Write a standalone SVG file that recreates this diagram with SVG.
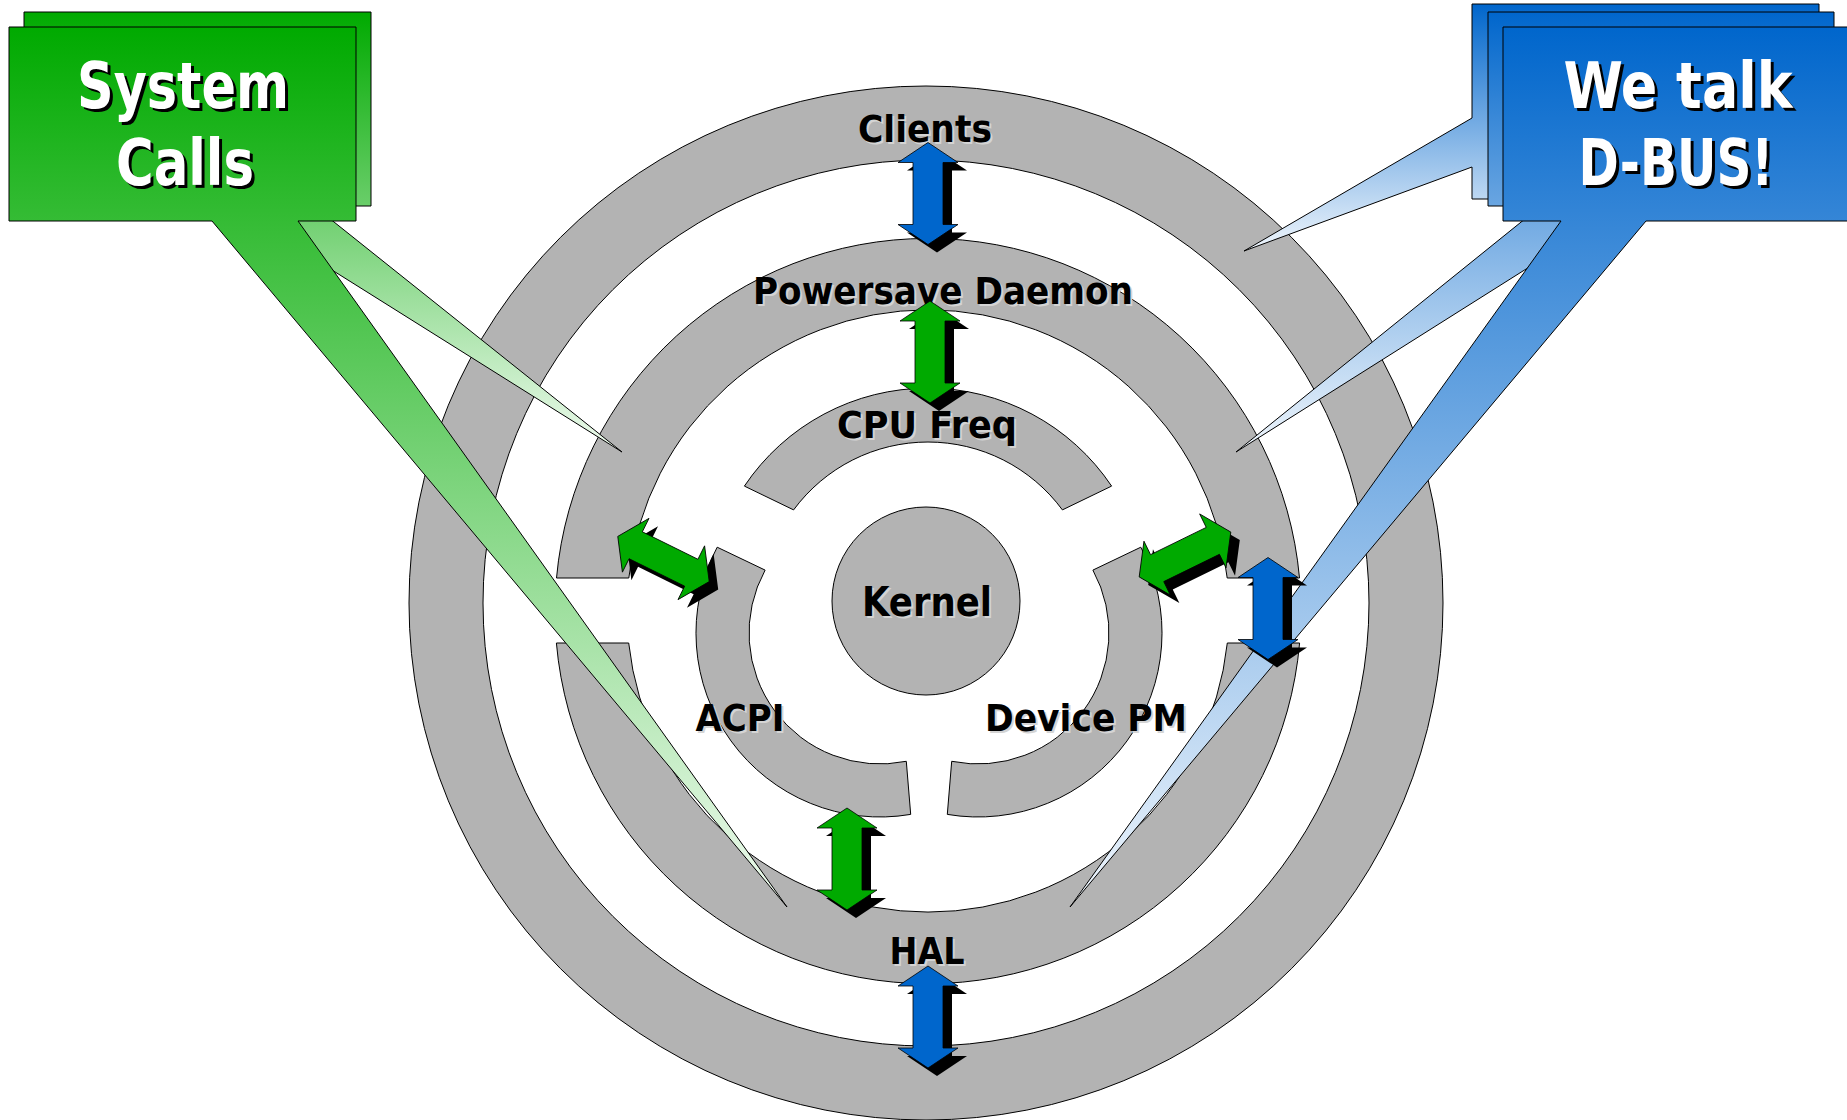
<svg xmlns="http://www.w3.org/2000/svg" xmlns:xlink="http://www.w3.org/1999/xlink" width="1847" height="1120" viewBox="0 0 1847 1120">
<defs>
  <linearGradient id="gFront" gradientUnits="userSpaceOnUse" x1="0" y1="27" x2="0" y2="907">
    <stop offset="0" stop-color="#00aa00"/><stop offset="1" stop-color="#f0fbf0"/>
  </linearGradient>
  <linearGradient id="gBack" gradientUnits="userSpaceOnUse" x1="0" y1="12" x2="0" y2="452">
    <stop offset="0" stop-color="#00aa00"/><stop offset="1" stop-color="#f0fbf0"/>
  </linearGradient>
  <linearGradient id="bFront" gradientUnits="userSpaceOnUse" x1="0" y1="27" x2="0" y2="907">
    <stop offset="0" stop-color="#0066cc"/><stop offset="1" stop-color="#f0f6fc"/>
  </linearGradient>
  <linearGradient id="bMid" gradientUnits="userSpaceOnUse" x1="0" y1="12" x2="0" y2="452">
    <stop offset="0" stop-color="#0066cc"/><stop offset="1" stop-color="#f0f6fc"/>
  </linearGradient>
  <linearGradient id="bBack" gradientUnits="userSpaceOnUse" x1="0" y1="4" x2="0" y2="251">
    <stop offset="0" stop-color="#0066cc"/><stop offset="1" stop-color="#f0f6fc"/>
  </linearGradient>
  <path id="arr" d="M0 -51 L30 -31 L15 -31 L15 31 L30 31 L0 51 L-30 31 L-15 31 L-15 -31 L-30 -31 Z"/>
</defs>
<style>
  .ring{fill:#b3b3b3;stroke:#000;stroke-width:1}
  .lbl{font-family:"DejaVu Sans Condensed","DejaVu Sans",sans-serif;font-weight:bold;font-size:38px;text-anchor:middle}
  .lsh{fill:#d4d4d4}
  .lfg{fill:#000}
  .title{font-family:"DejaVu Sans Condensed","DejaVu Sans",sans-serif;font-weight:bold;font-size:64px;text-anchor:middle}
  .tsh{fill:#000}
  .tfg{fill:#fff}
  .callout{stroke:#000;stroke-width:1}
  .shadow{fill:#000}
  .blue{fill:#0066cc;stroke:#000;stroke-width:0.8}
  .green{fill:#00aa00;stroke:#000;stroke-width:0.8}
</style>
<rect x="0" y="0" width="1847" height="1120" fill="#fff"/>

<g id="clients">
  <path class="ring" fill-rule="evenodd" d="M926 86 A517 517 0 1 1 926 1120 A517 517 0 1 1 926 86 Z M926 160 A443 443 0 1 0 926 1046 A443 443 0 1 0 926 160 Z"/>
</g>
<g id="powersave-daemon">
  <path class="ring" d="M556.5 578 A373 373 0 0 1 1299.5 578 L1227.2 578 A301 301 0 0 0 628.8 578 Z"/>
</g>
<g id="hal">
  <path class="ring" d="M1299.6 643 A373 373 0 0 1 556.4 643 L628.7 643 A301 301 0 0 0 1227.3 643 Z"/>
</g>
<g id="cpu-freq">
  <path class="ring" d="M744.4 486.1 A221 221 0 0 1 1111.6 486.1 L1062.4 509.9 A167 167 0 0 0 793.6 509.9 Z"/>
</g>
<g id="acpi">
  <path class="ring" d="M717.2 547.2 A184 184 0 0 0 910.7 814.4 L906.3 761.3 A131 131 0 0 1 765.1 570.1 Z"/>
</g>
<g id="device-pm">
  <path class="ring" d="M1140.8 547.2 A184 184 0 0 1 947.3 814.4 L951.7 761.3 A131 131 0 0 0 1092.9 570.1 Z"/>
</g>
<g id="kernel">
  <circle class="ring" cx="926" cy="601" r="94"/>
</g>

<g id="system-calls">
  <path class="callout" fill="url(#gBack)" d="M24 12 L371 12 L371 206 L314 206 L622 452 L230 206 L24 206 Z"/>
  <path class="callout" fill="url(#gFront)" d="M9 27 L356 27 L356 221 L298 221 L787 907 L212 221 L9 221 Z"/>
  <text class="title tsh" x="186" y="111" textLength="212" lengthAdjust="spacingAndGlyphs">System</text>
  <text class="title tfg" x="183" y="108" textLength="212" lengthAdjust="spacingAndGlyphs">System</text>
  <text class="title tsh" x="188" y="188" textLength="138" lengthAdjust="spacingAndGlyphs">Calls</text>
  <text class="title tfg" x="185" y="185" textLength="138" lengthAdjust="spacingAndGlyphs">Calls</text>
</g>

<g id="we-talk-dbus">
  <path class="callout" fill="url(#bBack)" d="M1472 4 L1819 4 L1819 199 L1472 199 L1472 167 L1244 251 L1472 118 Z"/>
  <path class="callout" fill="url(#bMid)" d="M1488 12 L1834 12 L1834 206 L1626 206 L1236 452 L1541 206 L1488 206 Z"/>
  <path class="callout" fill="url(#bFront)" d="M1503 27 L1860 27 L1860 221 L1646 221 L1070 907 L1561 221 L1503 221 Z"/>
  <text class="title tsh" x="1681" y="111" textLength="229" lengthAdjust="spacingAndGlyphs">We talk</text>
  <text class="title tfg" x="1678" y="108" textLength="229" lengthAdjust="spacingAndGlyphs">We talk</text>
  <text class="title tsh" x="1679" y="188" textLength="195" lengthAdjust="spacingAndGlyphs">D-BUS!</text>
  <text class="title tfg" x="1676" y="185" textLength="195" lengthAdjust="spacingAndGlyphs">D-BUS!</text>
</g>

<g id="labels">
  <text class="lbl lsh" x="927" y="144" textLength="134" lengthAdjust="spacingAndGlyphs">Clients</text>
  <text class="lbl lfg" x="925" y="142" textLength="134" lengthAdjust="spacingAndGlyphs">Clients</text>
  <text class="lbl lsh" x="945" y="306" textLength="380" lengthAdjust="spacingAndGlyphs">Powersave Daemon</text>
  <text class="lbl lfg" x="943" y="304" textLength="380" lengthAdjust="spacingAndGlyphs">Powersave Daemon</text>
  <text class="lbl lsh" x="929" y="440" textLength="180" lengthAdjust="spacingAndGlyphs">CPU Freq</text>
  <text class="lbl lfg" x="927" y="438" textLength="180" lengthAdjust="spacingAndGlyphs">CPU Freq</text>
  <text class="lbl lsh" x="929" y="618" textLength="130" lengthAdjust="spacingAndGlyphs" style="font-size:40px">Kernel</text>
  <text class="lbl lfg" x="927" y="616" textLength="130" lengthAdjust="spacingAndGlyphs" style="font-size:40px">Kernel</text>
  <text class="lbl lsh" x="742" y="733" textLength="89" lengthAdjust="spacingAndGlyphs">ACPI</text>
  <text class="lbl lfg" x="740" y="731" textLength="89" lengthAdjust="spacingAndGlyphs">ACPI</text>
  <text class="lbl lsh" x="1088" y="733" textLength="202" lengthAdjust="spacingAndGlyphs">Device PM</text>
  <text class="lbl lfg" x="1086" y="731" textLength="202" lengthAdjust="spacingAndGlyphs">Device PM</text>
  <text class="lbl lsh" x="929" y="966" textLength="75" lengthAdjust="spacingAndGlyphs">HAL</text>
  <text class="lbl lfg" x="927" y="964" textLength="75" lengthAdjust="spacingAndGlyphs">HAL</text>
</g>

<g id="connectors">
  <use href="#arr" class="shadow" transform="translate(937 201.5)"/>
  <use href="#arr" class="blue" transform="translate(928 193.5)"/>
  <use href="#arr" class="shadow" transform="translate(939 360)"/>
  <use href="#arr" class="green" transform="translate(930 352)"/>
  <use href="#arr" class="shadow" transform="translate(856 867)"/>
  <use href="#arr" class="green" transform="translate(847 859)"/>
  <use href="#arr" class="shadow" transform="translate(937 1025)"/>
  <use href="#arr" class="blue" transform="translate(928 1017)"/>
  <use href="#arr" class="shadow" transform="translate(1277 616.5)"/>
  <use href="#arr" class="blue" transform="translate(1268 608.5)"/>
  <use href="#arr" class="shadow" transform="translate(672.5 567) rotate(-63.7)"/>
  <use href="#arr" class="green" transform="translate(663.5 559) rotate(-63.7)"/>
  <use href="#arr" class="shadow" transform="translate(1194 562.5) rotate(63.9)"/>
  <use href="#arr" class="green" transform="translate(1185 554.5) rotate(63.9)"/>
</g>
</svg>
